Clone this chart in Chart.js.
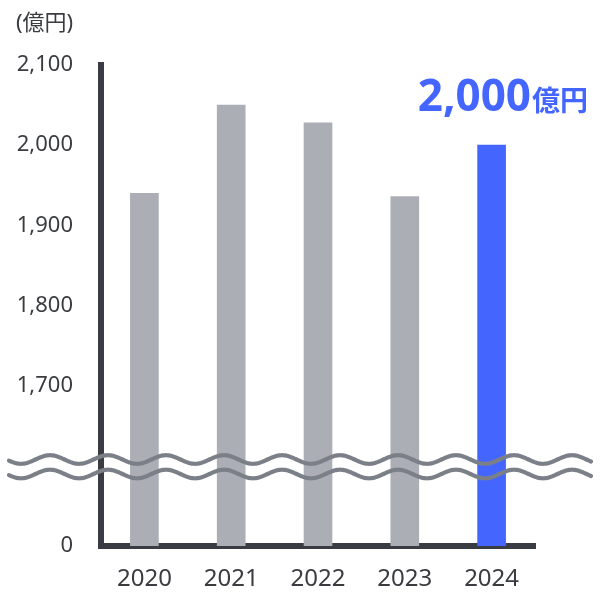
<!DOCTYPE html>
<html>
<head>
<meta charset="utf-8">
<script src="https://cdn.jsdelivr.net/npm/chart.js@4/dist/chart.umd.min.js"></script>
<style>
html,body{margin:0;padding:0;background:#fff;}
#wrap{width:600px;height:592px;position:relative;}
</style>
</head>
<body>
<div id="wrap"><canvas id="c" width="600" height="592"></canvas></div>
<script>
// ---- data ----
const categories = ['2020', '2021', '2022', '2023', '2024'];
const values = [1940, 2050, 2028, 1936, 2000];
const barColors = ['#abaeb5', '#abaeb5', '#abaeb5', '#abaeb5', '#4466ff'];
const yTickValues = [1500, 1700, 1800, 1900, 2000, 2100];
const yTickLabels = ['0', '1,700', '1,800', '1,900', '2,000', '2,100'];
const unitLabel = '(億円)';
const highlightUnit = '億円';

const FONT = "'Noto Sans', 'Noto Sans CJK JP', sans-serif";

const extras = {
  id: 'extras',
  afterDatasetsDraw(chart) {
    const ctx = chart.ctx;
    // break waves
    const period = 58, amp = 4.3, crest = 50;
    const centers = [459.5, 474];
    ctx.save();
    ctx.strokeStyle = '#7b8088';
    ctx.lineWidth = 4.2;
    ctx.lineCap = 'round';
    centers.forEach(cy => {
      ctx.beginPath();
      for (let x = 9; x <= 591; x += 1) {
        const y = cy - amp * Math.cos((x - crest) / period * 2 * Math.PI);
        if (x === 9) ctx.moveTo(x, y); else ctx.lineTo(x, y);
      }
      ctx.stroke();
    });
    ctx.restore();
  },
  afterDraw(chart) {
    const ctx = chart.ctx;
    ctx.save();
    // unit label
    ctx.fillStyle = '#3a3c40';
    ctx.font = "22px " + FONT;
    ctx.textAlign = 'left';
    ctx.textBaseline = 'alphabetic';
    ctx.fillText(unitLabel, 16, 30);
    // highlight label
    const last = values[values.length - 1];
    const txt = last.toLocaleString('en-US');
    ctx.fillStyle = '#4466ff';
    ctx.font = "bold 28px 'Noto Sans CJK JP', sans-serif";
    ctx.textAlign = 'right';
    const uw = ctx.measureText(highlightUnit).width;
    ctx.fillText(highlightUnit, 588, 111);
    ctx.font = "bold 44px " + FONT;
    ctx.fillText(txt, 588 - uw - 1, 111);
    ctx.restore();
  }
};

new Chart(document.getElementById('c'), {
  type: 'bar',
  data: {
    labels: categories,
    datasets: [{
      data: values,
      backgroundColor: barColors,
      barThickness: 28,
      borderWidth: 0
    }]
  },
  options: {
    responsive: false,
    animation: false,
    events: [],
    layout: { padding: { top: 65, right: 65, bottom: 0, left: 0 } },
    plugins: { legend: { display: false }, tooltip: { enabled: false } },
    scales: {
      x: {
        grid: { display: false, drawTicks: false },
        border: { display: true, color: '#393c42', width: 6 },
        ticks: { color: '#3a3c40', font: { family: FONT, size: 24 }, padding: 19 },
        afterFit(s) { s.height = 46; }
      },
      y: {
        min: 1500,
        max: 2100,
        grid: { display: false, drawTicks: false },
        border: { display: true, color: '#393c42', width: 6 },
        afterBuildTicks(s) { s.ticks = yTickValues.map(v => ({ value: v })); },
        ticks: {
          color: '#3a3c40',
          font: { family: FONT, size: 22 },
          padding: 28,
          callback(v) { const i = yTickValues.indexOf(v); return i >= 0 ? yTickLabels[i] : ''; }
        },
        afterFit(s) { s.width = 101; }
      }
    }
  },
  plugins: [extras]
});
</script>
</body>
</html>
